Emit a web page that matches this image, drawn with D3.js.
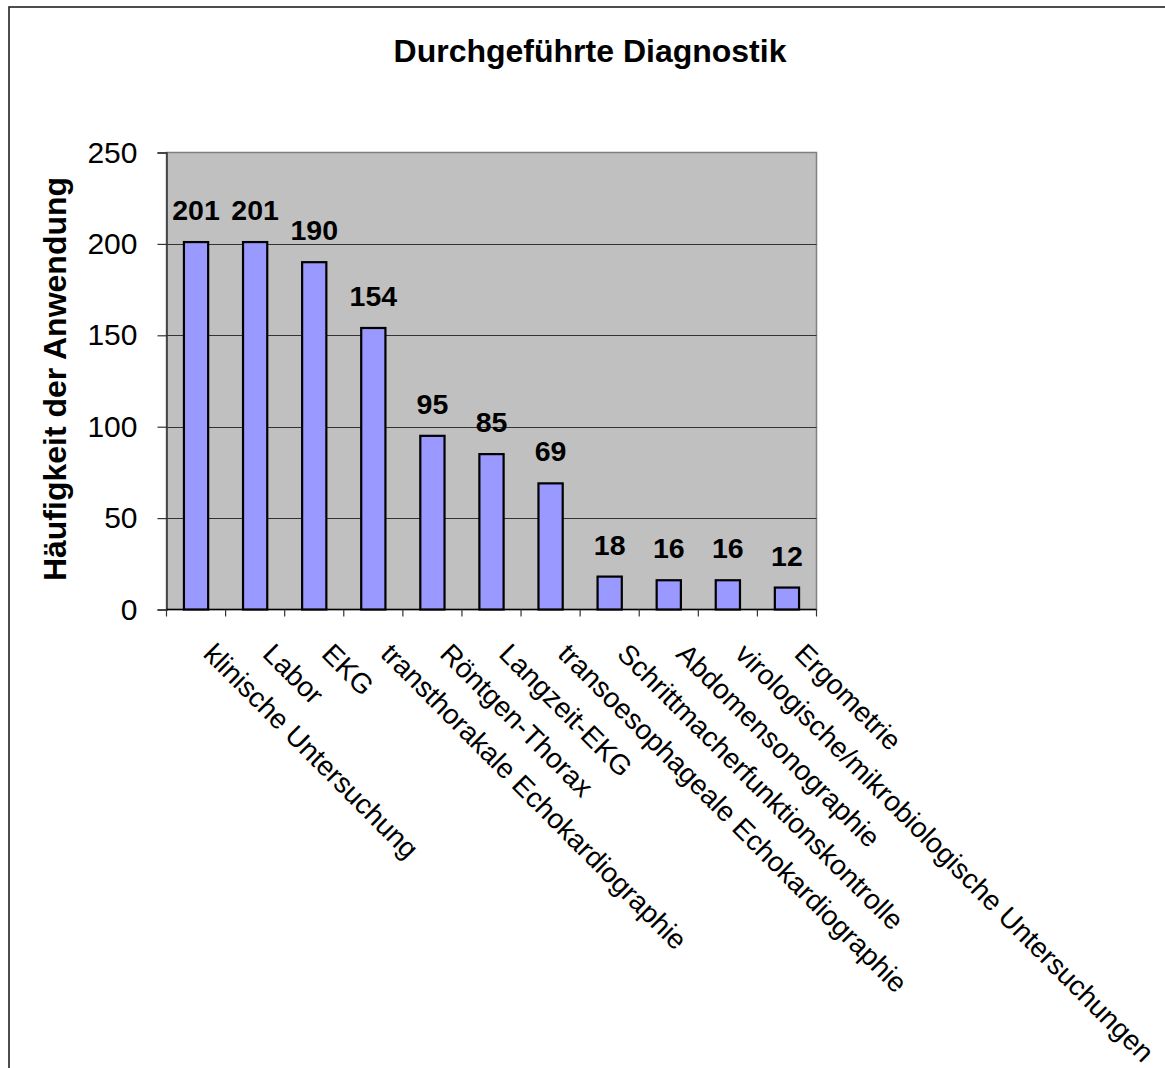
<!DOCTYPE html>
<html>
<head>
<meta charset="utf-8">
<script src="https://cdn.jsdelivr.net/npm/d3@7"></script>
<style>
  html, body { margin: 0; padding: 0; background: #fff; }
  svg { display: block; font-family: Arial, "Liberation Sans", sans-serif; }
</style>
</head>
<body>
<svg id="chart" width="1165" height="1068"></svg>
<script>
// Diagnostic procedures and how often each was used
const categories = [
  "klinische Untersuchung",
  "Labor",
  "EKG",
  "transthorakale Echokardiographie",
  "Röntgen-Thorax",
  "Langzeit-EKG",
  "transoesophageale Echokardiographie",
  "Schrittmacherfunktionskontrolle",
  "Abdomensonographie",
  "virologische/mikrobiologische Untersuchungen",
  "Ergometrie"
];
const counts = [201, 201, 190, 154, 95, 85, 69, 18, 16, 16, 12];
const yTicks = [0, 50, 100, 150, 200, 250];
const chartTitle = "Durchgeführte Diagnostik";
const yTitle = "Häufigkeit der Anwendung";

const svg = d3.select("#chart");

// outer frame
svg.append("rect")
  .attr("x", 9).attr("y", 7)
  .attr("width", 1200).attr("height", 1100)
  .attr("fill", "#fff")
  .attr("stroke", "#222").attr("stroke-width", 1.6);

const plot = { left: 166.5, right: 816.5, top: 152.5, bottom: 609.5 };

const x = d3.scaleBand()
  .domain(categories)
  .range([plot.left, plot.right])
  .paddingInner(0).paddingOuter(0);

const y = d3.scaleLinear()
  .domain([0, 250])
  .range([plot.bottom, plot.top]);

// plot background
svg.append("rect")
  .attr("x", plot.left).attr("y", plot.top)
  .attr("width", plot.right - plot.left)
  .attr("height", plot.bottom - plot.top)
  .attr("fill", "#c0c0c0")
  .attr("stroke", "#808080").attr("stroke-width", 1.5);

// horizontal gridlines
svg.append("g")
  .selectAll("line")
  .data(yTicks.filter(d => d > 0 && d < 250))
  .join("line")
  .attr("x1", plot.left).attr("x2", plot.right)
  .attr("y1", d => Math.round(y(d)) + 0.5)
  .attr("y2", d => Math.round(y(d)) + 0.5)
  .attr("stroke", "#333").attr("stroke-width", 1);

// y axis
const yAxis = svg.append("g")
  .attr("transform", `translate(${plot.left},0)`)
  .call(d3.axisLeft(y).tickValues(yTicks).tickSize(9).tickPadding(20).tickFormat(d3.format("d")));
yAxis.select(".domain").attr("stroke", "#333").attr("stroke-width", 1.5);
yAxis.selectAll(".tick line").attr("stroke", "#333").attr("stroke-width", 1.2);
yAxis.selectAll(".tick text")
  .attr("font-size", 30)
  .attr("font-family", "Arial, 'Liberation Sans', sans-serif")
  .attr("fill", "#000");

// x axis: ticks at category boundaries
const boundaries = categories.map(c => x(c)).concat([plot.right]);
svg.append("line")
  .attr("x1", plot.left).attr("x2", plot.right)
  .attr("y1", plot.bottom).attr("y2", plot.bottom)
  .attr("stroke", "#000").attr("stroke-width", 1.5);
svg.append("g")
  .selectAll("line")
  .data(boundaries)
  .join("line")
  .attr("x1", d => d).attr("x2", d => d)
  .attr("y1", plot.bottom).attr("y2", plot.bottom + 7)
  .attr("stroke", "#333").attr("stroke-width", 1.2);

// bars
const barW = x.bandwidth() * 0.41;
svg.append("g")
  .selectAll("rect")
  .data(categories)
  .join("rect")
  .attr("x", (d) => x(d) + x.bandwidth() / 2 - barW / 2)
  .attr("y", (d, i) => y(counts[i]))
  .attr("width", barW)
  .attr("height", (d, i) => y(0) - y(counts[i]))
  .attr("fill", "#9999ff")
  .attr("stroke", "#000").attr("stroke-width", 2.2);

// value labels
svg.append("g")
  .selectAll("text")
  .data(categories)
  .join("text")
  .attr("x", d => x(d) + x.bandwidth() / 2)
  .attr("y", (d, i) => y(counts[i]) - 22)
  .attr("text-anchor", "middle")
  .attr("font-size", 28.5)
  .attr("font-weight", "bold")
  .text((d, i) => counts[i]);

// category labels, rotated 45°
svg.append("g")
  .selectAll("text")
  .data(categories)
  .join("text")
  .attr("transform", d => `translate(${x(d) + x.bandwidth() / 2 + 6},${plot.bottom + 46}) rotate(45)`)
  .attr("text-anchor", "start")
  .attr("font-size", 28)
  .text(d => d);

// chart title
svg.append("text")
  .attr("x", 590).attr("y", 62)
  .attr("text-anchor", "middle")
  .attr("font-size", 32)
  .attr("font-weight", "bold")
  .text(chartTitle);

// y axis title
svg.append("text")
  .attr("transform", `translate(66,379) rotate(-90)`)
  .attr("text-anchor", "middle")
  .attr("font-size", 32)
  .attr("font-weight", "bold")
  .text(yTitle);
</script>
</body>
</html>
